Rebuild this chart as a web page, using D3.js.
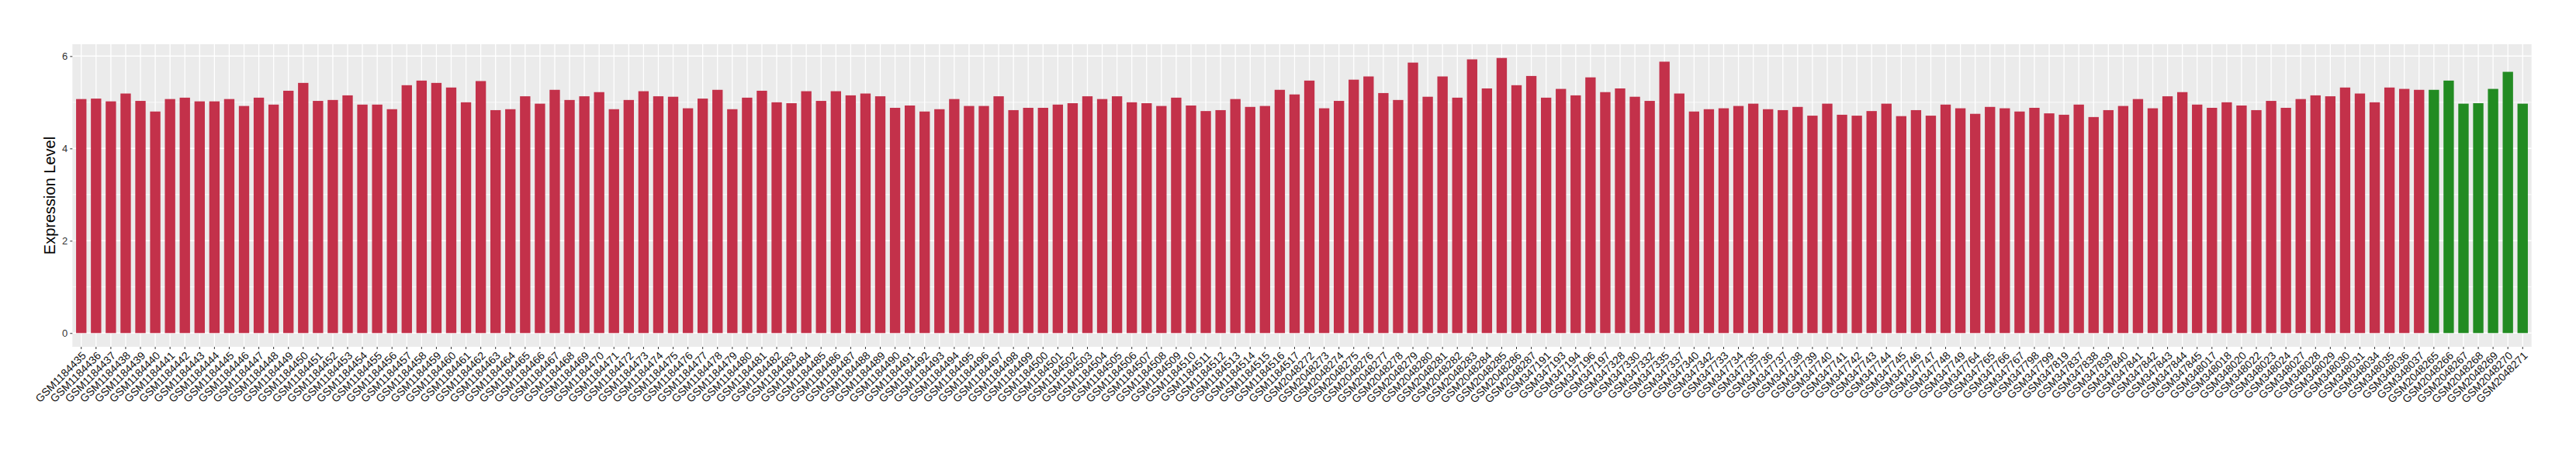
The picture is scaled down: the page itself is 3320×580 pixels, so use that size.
<!DOCTYPE html>
<html>
<head>
<meta charset="utf-8">
<script src="https://cdn.jsdelivr.net/npm/d3@7"></script>
<style>
  body { margin: 0; background: #fff; }
  text { font-family: "Liberation Sans", Arial, sans-serif; }
</style>
</head>
<body>
<svg id="chart"></svg>
<script>
// sample ids, in plotted order
const tumorIds = [
  "GSM1184435","GSM1184436","GSM1184437","GSM1184438","GSM1184439","GSM1184440","GSM1184441","GSM1184442","GSM1184443","GSM1184444",
  "GSM1184445","GSM1184446","GSM1184447","GSM1184448","GSM1184449","GSM1184450","GSM1184451","GSM1184452","GSM1184453","GSM1184454",
  "GSM1184455","GSM1184456","GSM1184457","GSM1184458","GSM1184459","GSM1184460","GSM1184461","GSM1184462","GSM1184463","GSM1184464",
  "GSM1184465","GSM1184466","GSM1184467","GSM1184468","GSM1184469","GSM1184470","GSM1184471","GSM1184472","GSM1184473","GSM1184474",
  "GSM1184475","GSM1184476","GSM1184477","GSM1184478","GSM1184479","GSM1184480","GSM1184481","GSM1184482","GSM1184483","GSM1184484",
  "GSM1184485","GSM1184486","GSM1184487","GSM1184488","GSM1184489","GSM1184490","GSM1184491","GSM1184492","GSM1184493","GSM1184494",
  "GSM1184495","GSM1184496","GSM1184497","GSM1184498","GSM1184499","GSM1184500","GSM1184501","GSM1184502","GSM1184503","GSM1184504",
  "GSM1184505","GSM1184506","GSM1184507","GSM1184508","GSM1184509","GSM1184510","GSM1184511","GSM1184512","GSM1184513","GSM1184514",
  "GSM1184515","GSM1184516","GSM1184517",
  "GSM2048272","GSM2048273","GSM2048274","GSM2048275","GSM2048276","GSM2048277","GSM2048278","GSM2048279","GSM2048280","GSM2048281",
  "GSM2048282","GSM2048283","GSM2048284","GSM2048285","GSM2048286","GSM2048287",
  "GSM347191","GSM347193","GSM347194","GSM347196","GSM347197",
  "GSM347328","GSM347330","GSM347332","GSM347335","GSM347337","GSM347340","GSM347342",
  "GSM347733","GSM347734","GSM347735","GSM347736","GSM347737","GSM347738","GSM347739","GSM347740","GSM347741","GSM347742",
  "GSM347743","GSM347744","GSM347745","GSM347746","GSM347747","GSM347748","GSM347749",
  "GSM347764","GSM347765","GSM347766","GSM347767","GSM347798","GSM347799","GSM347819",
  "GSM347837","GSM347838","GSM347839","GSM347840","GSM347841","GSM347842","GSM347843","GSM347844","GSM347845",
  "GSM348017","GSM348018","GSM348020","GSM348022","GSM348023","GSM348024","GSM348027","GSM348028","GSM348029","GSM348030",
  "GSM348031","GSM348034","GSM348035","GSM348036","GSM348037"
];
const normalIds = ["GSM2048265","GSM2048266","GSM2048267","GSM2048268","GSM2048269","GSM2048270","GSM2048271"];

const tumorValues = [
  5.07,5.08,5.02,5.19,5.03,4.80,5.07,5.10,5.02,5.02,5.07,4.92,5.10,4.95,5.25,5.42,5.03,5.05,5.15,4.95,
  4.95,4.85,5.37,5.47,5.42,5.32,5.00,5.46,4.83,4.85,5.13,4.97,5.27,5.05,5.13,5.22,4.85,5.05,5.24,5.13,
  5.12,4.87,5.08,5.27,4.85,5.10,5.25,5.00,4.98,5.24,5.03,5.24,5.15,5.19,5.13,4.88,4.93,4.80,4.85,5.07,
  4.92,4.92,5.13,4.83,4.88,4.88,4.95,4.98,5.13,5.07,5.13,5.00,4.98,4.92,5.10,4.93,4.81,4.83,5.07,4.90,
  4.92,5.27,5.17,5.47,4.87,5.03,5.49,5.56,5.20,5.05,5.86,5.12,5.56,5.10,5.93,5.30,5.96,5.37,5.57,5.10,
  5.29,5.15,5.54,5.22,5.30,5.12,5.03,5.88,5.19,4.80,4.85,4.87,4.92,4.97,4.85,4.83,4.90,4.71,4.97,4.73,
  4.71,4.81,4.97,4.70,4.83,4.71,4.95,4.87,4.75,4.90,4.87,4.80,4.88,4.76,4.73,4.95,4.68,4.83,4.92,5.07,
  4.87,5.13,5.22,4.95,4.88,5.00,4.93,4.83,5.03,4.88,5.07,5.15,5.13,5.32,5.19,5.00,5.32,5.29,5.27
];
const normalValues = [5.27,5.47,4.97,4.98,5.29,5.66,4.97];

const yMajor = [0, 2, 4, 6];
const yMinor = [1, 3, 5];

const tumorColor = "#C3314A";
const normalColor = "#228B22";

const data = tumorIds.map((id, i) => ({id: id, v: tumorValues[i], c: tumorColor}))
  .concat(normalIds.map((id, i) => ({id: id, v: normalValues[i], c: normalColor})));

const width = 3320;
const height = 580;
const panel = {left: 93.3, right: 3262.7, top: 57, bottom: 447};

const svg = d3.select("#chart")
  .attr("width", width)
  .attr("height", height);

const x = d3.scaleBand()
  .domain(data.map(d => d.id))
  .range([panel.left, panel.right])
  .paddingInner(0.3)
  .paddingOuter(0.25);

const maxV = d3.max(data, d => d.v);
const y = d3.scaleLinear()
  .domain([-0.05 * maxV, maxV * 1.05])
  .range([panel.bottom, panel.top]);

// panel background + grid (ggplot grey theme)
svg.append("rect")
  .attr("x", panel.left).attr("y", panel.top)
  .attr("width", panel.right - panel.left)
  .attr("height", panel.bottom - panel.top)
  .attr("fill", "#EBEBEB");

svg.append("g").selectAll("line")
  .data(yMinor)
  .join("line")
  .attr("x1", panel.left).attr("x2", panel.right)
  .attr("y1", d => y(d)).attr("y2", d => y(d))
  .attr("stroke", "#fff").attr("stroke-width", 0.8);

svg.append("g").selectAll("line")
  .data(yMajor)
  .join("line")
  .attr("x1", panel.left).attr("x2", panel.right)
  .attr("y1", d => y(d)).attr("y2", d => y(d))
  .attr("stroke", "#fff").attr("stroke-width", 1.5);

svg.append("g").selectAll("line")
  .data(data)
  .join("line")
  .attr("x1", d => x(d.id) + x.bandwidth() / 2).attr("x2", d => x(d.id) + x.bandwidth() / 2)
  .attr("y1", panel.top).attr("y2", panel.bottom)
  .attr("stroke", "#fff").attr("stroke-width", 1.3);

// bars
svg.append("g").selectAll("rect")
  .data(data)
  .join("rect")
  .attr("x", d => x(d.id))
  .attr("width", x.bandwidth())
  .attr("y", d => y(d.v))
  .attr("height", d => y(0) - y(d.v))
  .attr("fill", d => d.c);

// axes
const yAxis = svg.append("g")
  .attr("transform", `translate(${panel.left},0)`)
  .call(d3.axisLeft(y).tickValues(yMajor).tickFormat(d3.format("d")).tickSize(3).tickPadding(3));
yAxis.select(".domain").remove();
yAxis.selectAll("line").attr("stroke", "#333");
yAxis.selectAll("text")
  .attr("fill", "#333")
  .style("font-size", "13px");

const xAxis = svg.append("g")
  .attr("transform", `translate(0,${panel.bottom})`)
  .call(d3.axisBottom(x).tickSize(3).tickPadding(2));
xAxis.select(".domain").remove();
xAxis.selectAll("line").attr("stroke", "#333");
xAxis.selectAll("text")
  .attr("fill", "#111")
  .style("font-size", "14px")
  .attr("text-anchor", "end")
  .attr("y", 0).attr("dy", "0.72em")
  .attr("transform", "translate(0,5) rotate(-45)");

svg.append("text")
  .attr("transform", `translate(71,${(panel.top + panel.bottom) / 2}) rotate(-90)`)
  .attr("text-anchor", "middle")
  .style("font-size", "20px")
  .attr("fill", "#000")
  .text("Expression Level");
</script>
</body>
</html>
